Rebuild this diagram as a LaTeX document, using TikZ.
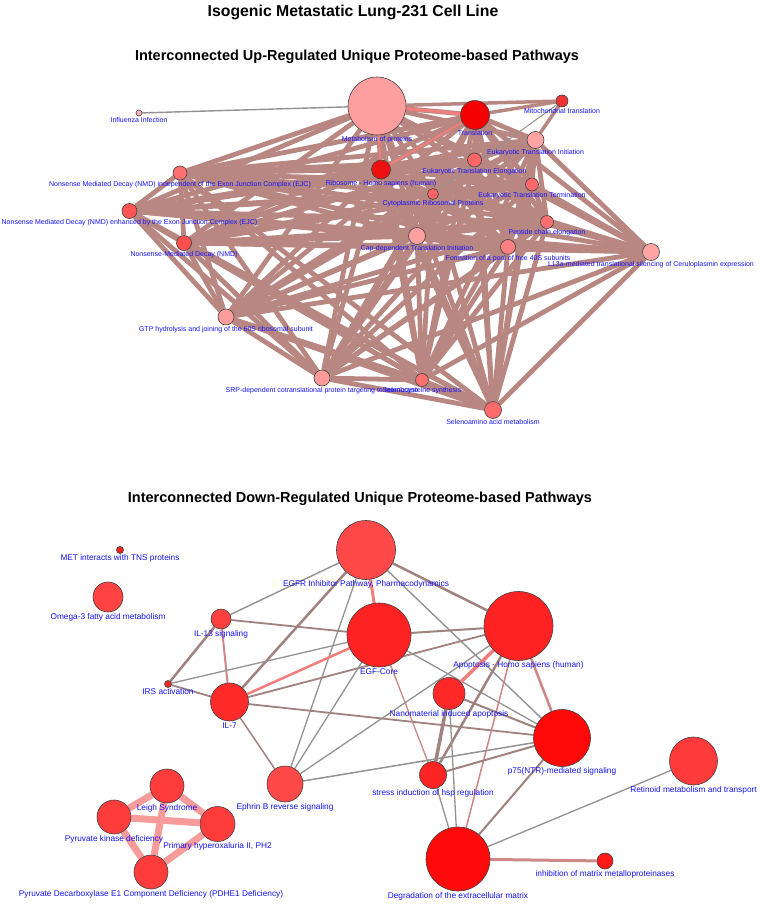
\documentclass[tikz,border=0pt]{standalone}
\usepackage{fontspec}
\setmainfont{Liberation Sans}
\pgfdeclarelayer{paper}
\pgfdeclarelayer{bg}
\pgfsetlayers{paper,bg,main}
\definecolor{upedge}{RGB}{185,135,130}
\definecolor{pinkedge}{RGB}{242,125,125}
\definecolor{gedge}{RGB}{150,145,145}
\definecolor{bedge}{RGB}{160,130,128}
\definecolor{pbedge}{RGB}{205,135,135}
\definecolor{saledge}{RGB}{248,155,155}
\definecolor{outl}{RGB}{64,64,64}
\definecolor{lblue}{RGB}{20,20,255}
\tikzset{
  pw/.style={circle, draw=outl, line width=0.6pt, inner sep=0pt},
  tl/.style={font=\fontsize{7}{7.5}\selectfont, text=lblue, inner sep=0.8pt, text height=5.1pt, text depth=1.4pt},
  bl/.style={font=\fontsize{8.3}{9}\selectfont, text=lblue, inner sep=0.6pt, text height=6pt, text depth=1.7pt},
  upe/.style={draw=upedge, line width=4.8pt},
  ttl/.style={font=\bfseries\fontsize{15.8}{18}\selectfont, anchor=base},
  stl/.style={font=\bfseries\fontsize{14.5}{17}\selectfont, anchor=base},
}
\begin{document}
\begin{tikzpicture}[x=1pt,y=-1pt]
\useasboundingbox (0,0) rectangle (760,905);
\begin{pgfonlayer}{paper}
\fill[white] (0,0) rectangle (760,905);
\end{pgfonlayer}
% titles
\node[ttl] (t1) at (353,16.5) {Isogenic Metastatic Lung-231 Cell Line};
\node[stl] (t2) at (357,60.5) {Interconnected Up-Regulated Unique Proteome-based Pathways};
\node[stl] (t3) at (360,502) {Interconnected Down-Regulated Unique Proteome-based Pathways};
% ---------- top network nodes
\node[pw, minimum size=6pt, fill={rgb,255:red,255;green,180;blue,180}, label={[tl]below:Influenza Infection}] (inf) at (139,113) {};
\node[pw, minimum size=58pt, fill={rgb,255:red,255;green,158;blue,158}, label={[tl]below:Metabolism of proteins}] (met) at (377,106) {};
\node[pw, minimum size=29pt, fill={rgb,255:red,245;green,0;blue,0}, label={[tl]below:Translation}] (trl) at (475,115) {};
\node[pw, minimum size=12pt, fill={rgb,255:red,240;green,50;blue,50}, label={[tl]below:Mitochondrial translation}] (mit) at (562,101) {};
\node[pw, minimum size=17pt, fill={rgb,255:red,255;green,163;blue,163}, label={[tl]below:Eukaryotic Translation Initiation}] (eti) at (535.5,140) {};
\node[pw, minimum size=14pt, fill={rgb,255:red,255;green,102;blue,102}, label={[tl]below:Eukaryotic Translation Elongation}] (ete) at (474.5,160) {};
\node[pw, minimum size=13pt, fill={rgb,255:red,255;green,104;blue,104}, label={[tl]below:Eukaryotic Translation Termination}] (ett) at (532,184.5) {};
\node[pw, minimum size=11pt, fill={rgb,255:red,255;green,98;blue,98}, label={[tl]below:Cytoplasmic Ribosomal Proteins}] (cyt) at (433,194) {};
\node[pw, minimum size=19pt, fill={rgb,255:red,238;green,17;blue,17}, label={[tl]below:Ribosome - Homo sapiens (human)}] (rib) at (381,169.5) {};
\node[pw, minimum size=13pt, fill={rgb,255:red,255;green,111;blue,111}, label={[tl]below:Peptide chain elongation}] (pce) at (547,222) {};
\node[pw, minimum size=17pt, fill={rgb,255:red,255;green,160;blue,160}, label={[tl]below:Cap-dependent Translation Initiation}] (cap) at (417,236) {};
\node[pw, minimum size=15pt, fill={rgb,255:red,255;green,128;blue,128}, label={[tl]below:Formation of a pool of free 40S subunits}] (f40) at (508,247) {};
\node[pw, minimum size=17pt, fill={rgb,255:red,255;green,165;blue,165}, label={[tl]below:L13a-mediated translational silencing of Ceruloplasmin expression}] (l13) at (651,252) {};
\node[pw, minimum size=14pt, fill={rgb,255:red,255;green,112;blue,112}, label={[tl]below:Nonsense Mediated Decay (NMD) independent of the Exon Junction Complex (EJC)}] (nmi) at (180,173) {};
\node[pw, minimum size=15pt, fill={rgb,255:red,255;green,85;blue,85}, label={[tl]below:Nonsense Mediated Decay (NMD) enhanced by the Exon Junction Complex (EJC)}] (nme) at (129.5,211) {};
\node[pw, minimum size=15pt, fill={rgb,255:red,255;green,79;blue,79}, label={[tl]below:Nonsense-Mediated Decay (NMD)}] (nmd) at (184,243) {};
\node[pw, minimum size=16pt, fill={rgb,255:red,255;green,156;blue,156}, label={[tl]below:GTP hydrolysis and joining of the 60S ribosomal subunit}] (gtp) at (226,317) {};
\node[pw, minimum size=16pt, fill={rgb,255:red,255;green,154;blue,154}, label={[tl]below:SRP-dependent cotranslational protein targeting to membrane}] (srp) at (322,378) {};
\node[pw, minimum size=13pt, fill={rgb,255:red,255;green,112;blue,112}, label={[tl]below:Selenocysteine synthesis}] (ssy) at (422,380) {};
\node[pw, minimum size=17pt, fill={rgb,255:red,255;green,106;blue,106}, label={[tl]below:Selenoamino acid metabolism}] (sam) at (493,410) {};
% ---------- top edges
\begin{pgfonlayer}{bg}
\foreach \a [count=\i] in {met,trl,rib,cyt,eti,ete,ett,pce,cap,f40,l13,nmi,nme,nmd,gtp,srp,ssy,sam} {
  \foreach \b [count=\j] in {met,trl,rib,cyt,eti,ete,ett,pce,cap,f40,l13,nmi,nme,nmd,gtp,srp,ssy,sam} {
    \ifnum\j>\i\relax \draw[upe] (\a) -- (\b); \fi
  }
}
\draw[upe, line width=3.5pt] (mit) -- (met);
\draw[upe, line width=3.5pt] (mit) -- (trl);
\draw[upe, line width=3.5pt] (mit) -- (eti);
\draw[draw=pinkedge, line width=3pt] (met) -- (trl);
\draw[draw=pinkedge, line width=2pt] (met) -- (rib);
\draw[draw=pinkedge, line width=2pt] (trl) -- (rib);
\draw[draw=gedge, line width=1.4pt] (inf) -- (met);
\draw[draw=gedge, line width=1pt] (mit) -- (cyt);
\end{pgfonlayer}
% ---------- bottom network nodes
\node[pw, minimum size=7pt, fill={rgb,255:red,238;green,34;blue,34}, label={[bl]below:MET interacts with TNS proteins}] (mtn) at (120,550) {};
\node[pw, minimum size=30pt, fill={rgb,255:red,255;green,66;blue,66}, label={[bl]below:Omega-3 fatty acid metabolism}] (omg) at (108,597) {};
\node[pw, minimum size=59pt, fill={rgb,255:red,255;green,72;blue,72}, label={[bl]below:{EGFR Inhibitor Pathway, Pharmacodynamics}}] (egfr) at (366,550) {};
\node[pw, minimum size=64pt, fill={rgb,255:red,255;green,34;blue,34}, label={[bl]below:EGF-Core}] (egf) at (379,635) {};
\node[pw, minimum size=69pt, fill={rgb,255:red,255;green,34;blue,34}, label={[bl]below:Apoptosis - Homo sapiens (human)}] (apo) at (518.5,626) {};
\node[pw, minimum size=20pt, fill={rgb,255:red,255;green,64;blue,64}, label={[bl]below:IL-13 signaling}] (il13) at (221,619) {};
\node[pw, minimum size=7pt, fill={rgb,255:red,240;green,42;blue,42}, label={[bl]below:IRS activation}] (irs) at (168,684) {};
\node[pw, minimum size=38pt, fill={rgb,255:red,255;green,42;blue,42}, label={[bl]below:IL-7}] (il7) at (229.5,702) {};
\node[pw, minimum size=32pt, fill={rgb,255:red,255;green,40;blue,40}, label={[bl]below:Nanomaterial induced apoptosis}] (nan) at (449,693.5) {};
\node[pw, minimum size=27pt, fill={rgb,255:red,255;green,36;blue,36}, label={[bl]below:stress induction of hsp regulation}] (hsp) at (433,775) {};
\node[pw, minimum size=57pt, fill={rgb,255:red,255;green,8;blue,8}, label={[bl]below:p75(NTR)-mediated signaling}] (p75) at (562,738) {};
\node[pw, minimum size=36pt, fill={rgb,255:red,255;green,72;blue,72}, label={[bl]below:Ephrin B reverse signaling}] (eph) at (285,784) {};
\node[pw, minimum size=48pt, fill={rgb,255:red,255;green,58;blue,58}, label={[bl]below:Retinoid metabolism and transport}] (ret) at (693.5,761) {};
\node[pw, minimum size=64pt, fill={rgb,255:red,255;green,10;blue,10}, label={[bl]below:Degradation of the extracellular matrix}] (deg) at (458,859) {};
\node[pw, minimum size=16pt, fill={rgb,255:red,255;green,26;blue,26}, label={[bl]below:inhibition of matrix metalloproteinases}] (inh) at (605,861) {};
\node[pw, minimum size=34pt, fill={rgb,255:red,255;green,60;blue,60}, label={[bl]below:Leigh Syndrome}] (lei) at (167,786) {};
\node[pw, minimum size=34pt, fill={rgb,255:red,255;green,60;blue,60}, label={[bl]below:Pyruvate kinase deficiency}] (pkd) at (114,817) {};
\node[pw, minimum size=35pt, fill={rgb,255:red,255;green,60;blue,60}, label={[bl]below:{Primary hyperoxaluria II, PH2}}] (ph2) at (217.5,824) {};
\node[pw, minimum size=34pt, fill={rgb,255:red,255;green,60;blue,60}, label={[bl]below:Pyruvate Decarboxylase E1 Component Deficiency (PDHE1 Deficiency)}] (pdh) at (151,872) {};
% ---------- bottom edges
\begin{pgfonlayer}{bg}
\draw[gedge, line width=1.4pt] (egfr) -- (il13);
\draw[bedge, line width=2.5pt] (egfr) -- (il7);
\draw[pinkedge, line width=3pt] (egfr) -- (egf);
\draw[bedge, line width=2.5pt] (egfr) -- (apo);
\draw[gedge, line width=1.4pt] (egfr) -- (p75);
\draw[gedge, line width=1.3pt] (egfr) -- (eph);
\draw[pbedge, line width=2pt] (il13) -- (il7);
\draw[bedge, line width=2.5pt] (il13) -- (irs);
\draw[bedge, line width=1.8pt] (il13) -- (egf);
\draw[gedge, line width=1.3pt] (irs) -- (egf);
\draw[bedge, line width=1.8pt] (irs) -- (il7);
\draw[pinkedge, line width=2.5pt] (il7) -- (egf);
\draw[bedge, line width=1.8pt] (il7) -- (apo);
\draw[bedge, line width=1.8pt] (il7) -- (p75);
\draw[bedge, line width=1.5pt] (il7) -- (eph);
\draw[bedge, line width=2pt] (egf) -- (apo);
\draw[gedge, line width=1.3pt] (egf) -- (p75);
\draw[pbedge, line width=1.3pt] (egf) -- (hsp);
\draw[gedge, line width=1.3pt] (egf) -- (eph);
\draw[pinkedge, line width=3.5pt] (apo) -- (nan);
\draw[bedge, line width=2.5pt] (apo) -- (hsp);
\draw[pbedge, line width=1.5pt] (apo) -- (deg);
\draw[pbedge, line width=2.5pt] (apo) -- (p75);
\draw[gedge, line width=1.3pt] (apo) -- (eph);
\draw[bedge, line width=2pt] (nan) -- (p75);
\draw[bedge, line width=3.5pt] (nan) -- (hsp);
\draw[gedge, line width=1.3pt] (nan) -- (deg);
\draw[bedge, line width=2pt] (hsp) -- (p75);
\draw[gedge, line width=1.3pt] (hsp) -- (deg);
\draw[bedge, line width=2pt] (p75) -- (deg);
\draw[gedge, line width=1.5pt] (eph) -- (p75);
\draw[gedge, line width=1.3pt] (deg) -- (ret);
\draw[pbedge, line width=3pt] (deg) -- (inh);
\foreach \u/\v in {lei/pkd, lei/ph2, lei/pdh, pkd/ph2, pkd/pdh, ph2/pdh}
  \draw[saledge, line width=7pt] (\u) -- (\v);
\end{pgfonlayer}
\end{tikzpicture}
\end{document}
